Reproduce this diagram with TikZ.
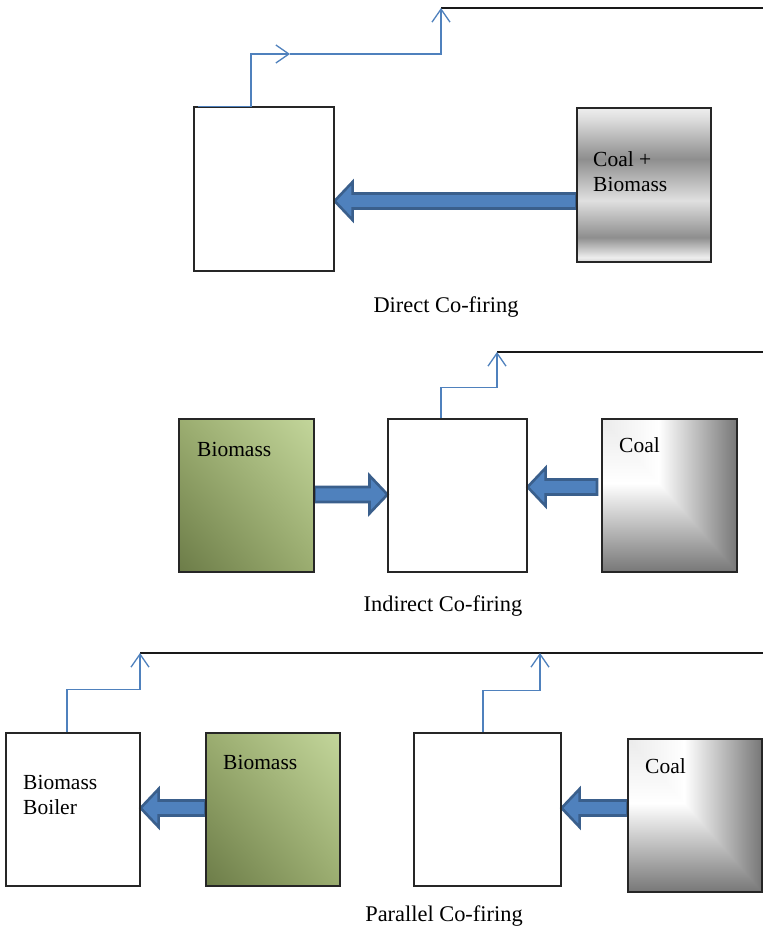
\documentclass[tikz,border=0pt]{standalone}
\usepackage{fontspec}
\setmainfont{Liberation Serif}
\usetikzlibrary{arrows.meta,calc,shadings}

% palette
\definecolor{flowblue}{HTML}{4F81BD}
\definecolor{fatedge}{HTML}{3A5F8C}
\definecolor{greenlight}{HTML}{C3D69B}
\definecolor{greenmid}{HTML}{9BAD70}
\definecolor{greendark}{HTML}{6C7C48}
\definecolor{coalpale}{HTML}{EBEBEB}
\definecolor{coaldark}{HTML}{777777}
\definecolor{bandtop}{HTML}{EEEEEE}
\definecolor{bandlight}{HTML}{E0E0E0}
\definecolor{banddark}{HTML}{8E8E8E}
\definecolor{bandbottom}{HTML}{D4D4D4}

% banded metal look (path bbox spans 25bp..75bp)
\pgfdeclareverticalshading{metalbands}{100bp}{%
  color(0bp)=(bandbottom); color(25bp)=(bandbottom);
  color(26.5bp)=(bandtop); color(33bp)=(banddark);
  color(45bp)=(bandlight); color(58.5bp)=(banddark);
  color(72bp)=(bandlight); color(75bp)=(bandtop); color(100bp)=(bandtop)}
% rectangular gradient from the top-left corner, split into two axes
\pgfdeclarehorizontalshading{coalx}{100bp}{%
  color(0bp)=(coalpale); color(25bp)=(coalpale); color(46bp)=(white);
  color(75bp)=(coaldark); color(100bp)=(coaldark)}
\pgfdeclareverticalshading{coaly}{100bp}{%
  color(0bp)=(coaldark); color(25bp)=(coaldark); color(54bp)=(white);
  color(75bp)=(coalpale); color(100bp)=(coalpale)}

\pgfdeclarelayer{paper}
\pgfdeclarelayer{bg}
\pgfsetlayers{paper,bg,main}

% thick block arrow from tail point #2 to tip point #1
\newcommand\fatarrow[2]{%
  \draw[fat] let \p1=(#1), \p2=(#2), \n1={sign(\x2-\x1)} in
    (\p1) -- ({\x1+(\n1)*18pt},{\y1+19pt}) -- ({\x1+(\n1)*18pt},{\y1+7.5pt})
    -- ({\x2},{\y1+7.5pt}) -- ({\x2},{\y1-7.5pt})
    -- ({\x1+(\n1)*18pt},{\y1-7.5pt}) -- ({\x1+(\n1)*18pt},{\y1-19pt}) -- cycle;}

\begin{document}
\begin{tikzpicture}[x=1pt,y=-1pt,
  box/.style={draw=black!85, line width=1.1pt, rectangle, inner sep=0pt},
  greenfill/.style={upper right=greenlight, lower left=greendark,
                    upper left=greenmid, lower right=greenmid},
  metalfill/.style={shading=metalbands},
  coalfill/.style={path picture={
      \coordinate (pp-nw) at (path picture bounding box.north west);
      \coordinate (pp-se) at (path picture bounding box.south east);
      \shade[shading=coalx] (pp-nw) rectangle (pp-se);
      \begin{scope}
        \clip (pp-nw) -- (pp-nw |- pp-se) -- (pp-se) -- cycle;
        \shade[shading=coaly] (pp-nw) rectangle (pp-se);
      \end{scope}}},
  flow/.style={draw=flowblue, line width=1.3pt, line join=miter},
  flowtip/.style={-{Straight Barb[length=13pt,width=18pt]}},
  outline/.style={draw=black!90, line width=1.2pt},
  fat/.style={fill=flowblue, draw=fatedge, line width=2.6pt, line join=miter},
  lbl/.style={font=\fontsize{21.5}{25}\selectfont, inner sep=0pt, anchor=base west},
  caption/.style={font=\fontsize{22.4}{26}\selectfont, inner sep=0pt, anchor=base}]

\begin{pgfonlayer}{paper}
  \fill[white] (0,0) rectangle (763,928);
\end{pgfonlayer}
\useasboundingbox (0,0) rectangle (763,928);

% ---------- direct co-firing ----------
\node[box, minimum width=140pt, minimum height=164pt] (b1) at (264,189) {};
\node[box, metalfill, minimum width=134pt, minimum height=154pt] (cb) at (644,185) {};
\node[lbl] (t1a) at (593,167) {Coal +};
\node[lbl] (t1b) at (593,191) {Biomass};
\node[caption] (c1) at (446,312) {Direct Co-firing};

% ---------- indirect co-firing ----------
\node[box, greenfill, minimum width=135pt, minimum height=153pt] (gm) at (246.5,495.5) {};
\node[box, minimum width=139pt, minimum height=153pt] (b2) at (457.5,495.5) {};
\node[box, coalfill, minimum width=135pt, minimum height=153pt] (cm) at (669.5,495.5) {};
\node[lbl] (t2a) at (197,456) {Biomass};
\node[lbl] (t2b) at (619,452) {Coal};
\node[caption] (c2) at (443,611) {Indirect Co-firing};

% ---------- parallel co-firing ----------
\node[box, minimum width=134pt, minimum height=153pt] (b3) at (73,809.5) {};
\node[box, greenfill, minimum width=134pt, minimum height=153pt] (gb) at (273,809.5) {};
\node[box, minimum width=147pt, minimum height=153pt] (b4) at (487.5,809.5) {};
\node[box, coalfill, minimum width=134pt, minimum height=153pt] (cl) at (695,815.5) {};
\node[lbl] (t3a) at (23,789) {Biomass};
\node[lbl] (t3b) at (23,814) {Boiler};
\node[lbl] (t3c) at (223,769) {Biomass};
\node[lbl] (t3d) at (645,773) {Coal};
\node[caption] (c3) at (444,921) {Parallel Co-firing};

% ---------- fuel feed arrows ----------
\coordinate (m2tail) at (597,487);
\begin{pgfonlayer}{bg}
  \fatarrow{b1.east |- 0,201}{cb.west |- 0,201}
  \fatarrow{b2.west |- 0,494.5}{gm.east |- 0,494.5}
  \fatarrow{b2.east |- 0,487}{m2tail}
  \fatarrow{b3.east |- 0,808}{gb.west |- 0,808}
  \fatarrow{b4.east |- 0,808}{cl.west |- 0,808}
\end{pgfonlayer}

% ---------- output lines ----------
\coordinate (o1) at (441,8);     \coordinate (o1end) at (763,8);
\coordinate (k1) at (290,54);
\coordinate (o2) at (497,352);   \coordinate (o2end) at (763,352);
\coordinate (o3) at (140,653);   \coordinate (o3end) at (763,653);
\coordinate (o4) at (540,653);
\draw[outline] (o1) -- (o1end);
\draw[outline] (o2) -- (o2end);
\draw[outline] (o3) -- (o3end);

\draw[flow, flowtip] ([xshift=-66pt]b1.north) -- ([xshift=-13pt]b1.north) |- (k1);
\draw[flow, flowtip] (k1) -| (o1);
\draw[flow, flowtip] ([xshift=-16.5pt]b2.north) -- ++(0,-31) -| (o2);
\draw[flow, flowtip] ([xshift=-6pt]b3.north) -- ++(0,-43) -| (o3);
\draw[flow, flowtip] ([xshift=-4.5pt]b4.north) -- ++(0,-42) -| (o4);
\end{tikzpicture}
\end{document}
